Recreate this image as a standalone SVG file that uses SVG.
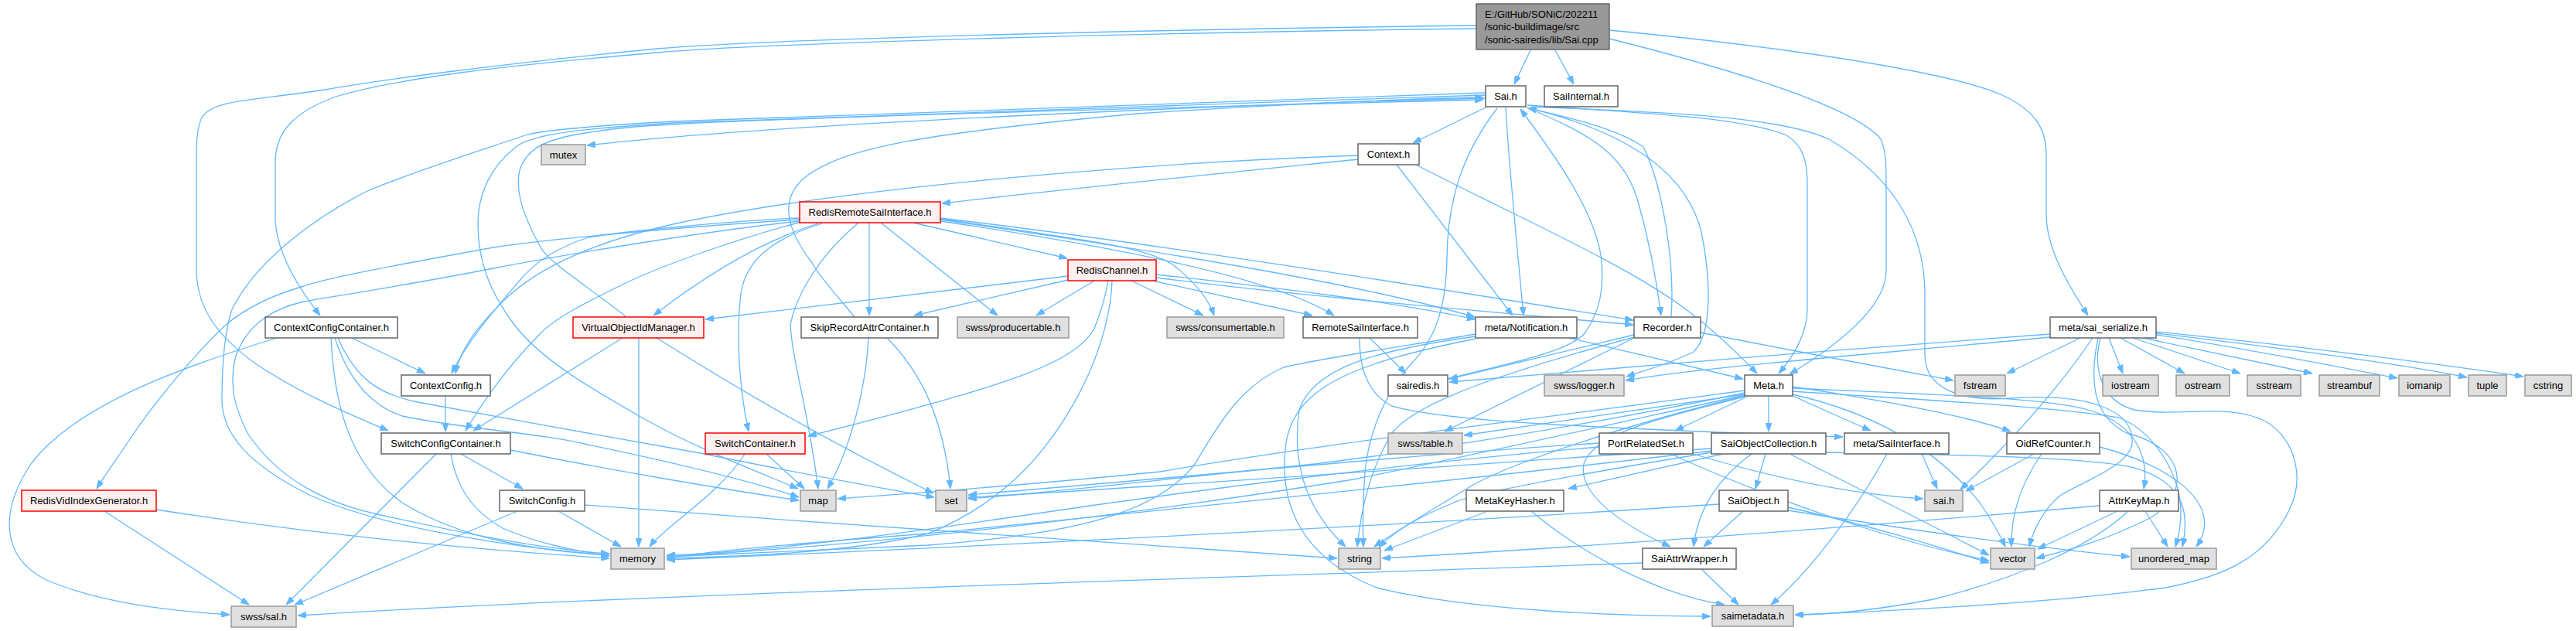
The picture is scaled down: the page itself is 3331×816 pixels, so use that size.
<svg xmlns="http://www.w3.org/2000/svg" width="3331" height="816" viewBox="0 0 3331 816">
<style>
.e{fill:none;stroke:#63B8FF;stroke-width:1.3;marker-end:url(#ah)}
.n rect{stroke-width:1.5}
.w rect{fill:#ffffff;stroke:#666666}
.g rect{fill:#e0e0e0;stroke:#999999}
.r rect{fill:#fff0f0;stroke:#ff0000}
.rt rect{fill:#999999;stroke:#666666}
text{font-family:"Liberation Sans",Arial,sans-serif;font-size:13px;fill:#000;text-anchor:middle}
.rt text{text-anchor:start}
</style>
<defs>
<marker id="ah" markerUnits="userSpaceOnUse" markerWidth="11" markerHeight="8" refX="11" refY="4" orient="auto"><path d="M0,0 L11,4 L0,8 z" fill="#63B8FF" stroke="#63B8FF" stroke-width="1"/></marker>
</defs>
<rect width="3331" height="816" fill="#ffffff"/>
<g id="connectors">
<path class="e" d="M1979,65 L1958,109"/>
<path class="e" d="M2011,65 L2035,109"/>
<path class="e" d="M2081,39 C2300,60 2520,92 2589,123 C2630,142 2646,165 2646,200 L2646,277 C2646,320 2672,365 2700,408"/>
<path class="e" d="M2081,50 C2260,95 2400,140 2432,180 C2439,195 2439,215 2439,240 L2439,350 C2439,400 2370,450 2314,484"/>
<path class="e" d="M1909,37 C1500,42 1000,55 850,68 C650,85 520,100 434,125 C380,145 356,170 356,210 L356,280 C356,320 380,365 414,408"/>
<path class="e" d="M1909,33 C1500,38 1000,50 850,63 C650,82 480,105 420,116 C330,130 280,128 262,150 C256,160 254,180 254,200 L254,353 C256,395 275,430 330,470 C390,510 450,535 502,557"/>
<path class="e" d="M1921,127 C1600,135 1000,160 759,188"/>
<path class="e" d="M1921,139 L1827,185"/>
<path class="e" d="M1947,139 C1950,200 1960,300 1970,408"/>
<path class="e" d="M1974,139 C2060,175 2100,200 2118,260 C2135,320 2143,370 2148,408"/>
<path class="e" d="M2161,410 C2166,340 2150,240 2125,190 C2090,165 2020,150 1976,140"/>
<path class="e" d="M1975,136 C2100,145 2250,150 2310,175 C2335,190 2337,215 2337,240 L2337,400 C2337,430 2320,460 2300,483"/>
<path class="e" d="M1978,140 C2100,170 2180,220 2200,300 C2212,360 2215,430 2190,455 C2160,470 2130,478 2103,487"/>
<path class="e" d="M1921,120 C1500,135 1000,150 870,157 C780,162 700,168 679,175 C620,195 540,220 475,247 C400,285 330,340 300,400 C290,430 287,470 287,517 C287,560 320,600 400,640 C500,685 680,710 788,718"/>
<path class="e" d="M1921,123 C1500,137 1000,152 870,159 C760,166 690,172 667,190 C635,215 618,250 618,290 C618,340 635,380 665,420 C700,465 760,500 830,540 C900,580 980,610 1032,632"/>
<path class="e" d="M1936,140 C1890,200 1872,260 1871,333 C1870,400 1855,440 1825,470 C1790,510 1770,560 1765,610 C1762,650 1762,680 1763,707"/>
<path class="e" d="M1980,138 C2150,145 2300,150 2365,180 C2450,230 2489,300 2489,380 L2489,460 C2490,500 2530,520 2600,515 C2700,508 2760,530 2757,573 C2755,600 2700,620 2665,640 C2640,660 2628,690 2624,707"/>
<path class="e" d="M1872,490 C1950,470 2030,455 2050,430 C2070,400 2075,370 2070,330 C2060,270 2010,200 1966,141"/>
<path class="e" d="M1756,206 C1600,222 1400,242 1218,263"/>
<path class="e" d="M1756,201 C1500,210 1100,240 870,290 C760,315 690,350 650,390 C620,420 595,450 589,483"/>
<path class="e" d="M1806,213 L1956,408"/>
<path class="e" d="M1831,213 C1950,275 2100,340 2180,400 C2220,430 2250,460 2272,483"/>
<path class="e" d="M1216,286 C1450,320 1650,360 1725,408"/>
<path class="e" d="M1216,284 C1500,325 1750,365 1907,410"/>
<path class="e" d="M1216,282 C1500,315 1900,380 2112,414"/>
<path class="e" d="M1181,288 L1380,334"/>
<path class="e" d="M1124,288 L1124,408"/>
<path class="e" d="M1139,288 L1290,408"/>
<path class="e" d="M1216,283 C1400,310 1490,320 1520,345 C1545,365 1562,385 1570,408"/>
<path class="e" d="M1058,289 C990,310 920,350 845,408"/>
<path class="e" d="M1063,289 C1010,305 965,330 958,380 C952,430 955,500 968,558"/>
<path class="e" d="M1110,288 C1060,330 1030,380 1022,420 C1025,470 1045,530 1058,632"/>
<path class="e" d="M1034,282 C950,285 800,300 761,307 C720,320 690,340 670,365 C640,400 605,440 584,483"/>
<path class="e" d="M1034,284 C900,292 700,310 638,320 C500,345 420,360 393,370 C340,385 310,405 292,420 C250,460 200,520 170,565 C150,595 135,615 125,632"/>
<path class="e" d="M1034,286 C900,300 700,335 638,347 C520,370 420,385 393,390 C350,400 320,420 305,460 C295,500 305,530 320,560 C360,620 420,650 488,665 C600,690 700,710 788,716"/>
<path class="e" d="M1036,287 C950,310 850,345 801,370 C760,390 720,410 700,430 C660,470 630,510 602,557"/>
<path class="e" d="M1381,357 L912,413"/>
<path class="e" d="M1381,362 L1182,408"/>
<path class="e" d="M1415,363 L1340,408"/>
<path class="e" d="M1463,363 L1556,408"/>
<path class="e" d="M1490,363 L1697,408"/>
<path class="e" d="M1495,355 C1650,372 1800,390 1908,413"/>
<path class="e" d="M1495,359 C1700,385 1950,405 2112,420"/>
<path class="e" d="M1433,363 C1430,380 1425,400 1415,425 C1390,470 1300,500 1045,564"/>
<path class="e" d="M1438,363 C1437,400 1425,450 1400,500 C1360,580 1300,650 1200,690 C1100,715 950,720 862,722"/>
<path class="e" d="M1105,410 C1085,385 1065,365 1050,340 C1020,300 1005,260 1040,230 C1090,190 1200,172 1470,147 C1650,135 1800,128 1918,126"/>
<path class="e" d="M1123,437 C1120,500 1100,580 1070,632"/>
<path class="e" d="M1147,437 C1190,480 1220,540 1229,632"/>
<path class="e" d="M810,410 C760,370 710,340 699,320 C680,285 665,250 672,220 C680,195 700,183 740,175 C780,167 820,163 870,161 C1000,153 1500,139 1918,129"/>
<path class="e" d="M805,437 L612,557"/>
<path class="e" d="M826,437 L826,707"/>
<path class="e" d="M849,437 C950,500 1050,560 1207,638"/>
<path class="e" d="M455,437 L550,483"/>
<path class="e" d="M358,437 C250,470 100,520 40,600 C0,660 0,720 60,750 C130,780 220,790 297,795"/>
<path class="e" d="M428,437 C432,520 450,600 520,650 C600,700 700,712 788,718"/>
<path class="e" d="M433,437 C450,490 480,525 520,538 C600,555 700,560 760,575 C880,600 980,625 1033,643"/>
<path class="e" d="M437,437 C460,490 490,510 540,520 C650,540 800,568 900,585 C1000,605 1120,628 1208,643"/>
<path class="e" d="M576,512 L576,558"/>
<path class="e" d="M564,587 L370,782"/>
<path class="e" d="M583,587 C590,630 610,660 650,683 C700,705 750,713 788,719"/>
<path class="e" d="M596,587 L676,632"/>
<path class="e" d="M660,582 C800,610 950,635 1033,647"/>
<path class="e" d="M669,661 L381,782"/>
<path class="e" d="M722,661 L803,707"/>
<path class="e" d="M756,653 C1100,680 1500,705 1729,722"/>
<path class="e" d="M202,659 C400,690 600,710 788,722"/>
<path class="e" d="M135,661 L322,782"/>
<path class="e" d="M991,587 L1040,632"/>
<path class="e" d="M963,587 C930,640 860,680 840,707"/>
<path class="e" d="M1771,437 L1818,483"/>
<path class="e" d="M1758,437 C1758,480 1770,510 1800,525 C1870,545 2050,553 2383,565"/>
<path class="e" d="M2029,437 L2254,490"/>
<path class="e" d="M1908,435 C1800,450 1700,470 1680,530 C1670,600 1690,660 1740,707"/>
<path class="e" d="M1908,432 C1800,450 1700,465 1660,475 C1600,500 1570,560 1545,600 C1500,660 1400,690 1200,705 C1050,712 920,718 862,720"/>
<path class="e" d="M1908,438 C1750,470 1670,500 1662,580 C1655,650 1680,720 1780,760 C1900,790 2100,797 2212,797"/>
<path class="e" d="M2113,433 L1874,490"/>
<path class="e" d="M2113,437 L1868,558"/>
<path class="e" d="M2113,436 C1950,480 1830,520 1800,560 C1770,610 1760,660 1755,707"/>
<path class="e" d="M2199,430 C2350,460 2450,478 2526,492"/>
<path class="e" d="M2256,510 L1893,563"/>
<path class="e" d="M2259,513 L2166,557"/>
<path class="e" d="M2287,512 L2287,558"/>
<path class="e" d="M2318,512 L2419,557"/>
<path class="e" d="M2256,513 C2150,540 2060,560 2048,600 C2040,640 2100,680 2160,707"/>
<path class="e" d="M2256,505 C2000,540 1700,575 1500,610 C1300,630 1150,640 1083,645"/>
<path class="e" d="M2256,508 C2100,540 1900,575 1700,600 C1500,620 1350,638 1252,645"/>
<path class="e" d="M2256,511 C2100,545 1900,590 1750,620 C1500,660 1200,700 862,720"/>
<path class="e" d="M2256,512 C2100,550 1950,600 1900,630 C1850,660 1800,690 1777,707"/>
<path class="e" d="M2318,500 C2450,520 2550,540 2600,558"/>
<path class="e" d="M2318,502 C2500,510 2650,515 2700,530 C2770,550 2778,600 2772,632"/>
<path class="e" d="M2318,506 C2450,515 2650,525 2740,540 C2790,560 2820,620 2820,660 C2820,690 2815,700 2813,707"/>
<path class="e" d="M2318,510 C2450,540 2520,600 2560,650 C2580,680 2590,700 2593,707"/>
<path class="e" d="M2283,587 L2270,632"/>
<path class="e" d="M2265,587 C2220,620 2195,660 2190,707"/>
<path class="e" d="M2228,587 L2028,632"/>
<path class="e" d="M2213,585 C2000,620 1900,640 1880,650 C1830,670 1800,690 1783,708"/>
<path class="e" d="M2213,583 C1900,620 1500,660 1200,690 C1000,705 900,715 862,722"/>
<path class="e" d="M2316,588 C2400,630 2480,670 2572,718"/>
<path class="e" d="M2213,580 C1900,600 1500,630 1252,643"/>
<path class="e" d="M2361,585 C2500,588 2700,590 2760,605 C2830,625 2830,670 2822,707"/>
<path class="e" d="M2068,573 C1800,590 1500,620 1252,640"/>
<path class="e" d="M2068,578 C1800,600 1500,640 1300,670 C1100,700 950,715 862,718"/>
<path class="e" d="M2189,587 C2300,620 2400,640 2487,645"/>
<path class="e" d="M2160,587 C2300,650 2450,700 2572,725"/>
<path class="e" d="M2485,587 L2505,632"/>
<path class="e" d="M2440,587 C2400,660 2340,740 2290,782"/>
<path class="e" d="M2630,587 L2542,635"/>
<path class="e" d="M2640,587 C2610,630 2600,670 2601,707"/>
<path class="e" d="M2715,578 C2800,600 2880,650 2840,707"/>
<path class="e" d="M2738,661 L2635,710"/>
<path class="e" d="M2774,661 L2803,707"/>
<path class="e" d="M2715,654 C2300,690 2000,710 1787,722"/>
<path class="e" d="M2752,661 C2700,710 2600,750 2500,775 C2420,790 2360,795 2321,795"/>
<path class="e" d="M2254,661 L2203,707"/>
<path class="e" d="M2223,652 C1800,680 1300,705 862,724"/>
<path class="e" d="M2312,656 C2420,680 2500,705 2572,728"/>
<path class="e" d="M2312,660 C2500,690 2650,710 2754,720"/>
<path class="e" d="M1924,661 L1790,712"/>
<path class="e" d="M1980,661 C2050,720 2150,770 2230,782"/>
<path class="e" d="M2200,736 L2248,782"/>
<path class="e" d="M2124,728 C1500,750 800,770 385,796"/>
<path class="e" d="M2690,437 L2595,483"/>
<path class="e" d="M2727,437 L2745,483"/>
<path class="e" d="M2742,437 L2825,483"/>
<path class="e" d="M2758,437 L2897,483"/>
<path class="e" d="M2771,437 L2990,483"/>
<path class="e" d="M2788,433 C2900,450 3000,470 3100,489"/>
<path class="e" d="M2788,431 C2950,450 3100,470 3190,488"/>
<path class="e" d="M2788,429 C2950,445 3150,470 3263,487"/>
<path class="e" d="M2706,437 C2650,520 2580,590 2535,633"/>
<path class="e" d="M2651,432 C2400,450 2100,475 1874,494"/>
<path class="e" d="M2651,436 C2400,460 2200,475 2102,492"/>
<path class="e" d="M2713,437 C2700,500 2710,540 2750,560 C2830,580 2832,640 2780,670 C2720,700 2680,710 2633,722"/>
<path class="e" d="M2716,437 C2705,480 2720,520 2760,530 C2820,540 2880,520 2930,545 C2970,570 2980,620 2960,660 C2930,720 2880,745 2800,760 C2650,780 2450,790 2321,795"/>
</g>
<g id="node-root" class="n rt"><rect x="1909" y="5" width="172" height="59"/><text x="1920" y="23">E:/GitHub/SONiC/202211</text><text x="1920" y="39">/sonic-buildimage/src</text><text x="1920" y="56">/sonic-sairedis/lib/Sai.cpp</text></g>
<g id="node-sai-h" class="n w"><rect x="1921" y="111" width="52" height="27"/><text x="1947" y="129">Sai.h</text></g>
<g id="node-saiinternal" class="n w"><rect x="1997" y="111" width="95" height="27"/><text x="2044.5" y="129">SaiInternal.h</text></g>
<g id="node-mutex" class="n g"><rect x="700" y="187" width="57" height="26"/><text x="728.5" y="205">mutex</text></g>
<g id="node-context" class="n w"><rect x="1756" y="186" width="79" height="27"/><text x="1795.5" y="204">Context.h</text></g>
<g id="node-rrsi" class="n r"><rect x="1034" y="261" width="182" height="27"/><text x="1125" y="279">RedisRemoteSaiInterface.h</text></g>
<g id="node-redischannel" class="n r"><rect x="1381" y="336" width="114" height="27"/><text x="1438" y="354">RedisChannel.h</text></g>
<g id="node-ccc" class="n w"><rect x="343" y="410" width="171" height="27"/><text x="428.5" y="428">ContextConfigContainer.h</text></g>
<g id="node-voim" class="n r"><rect x="741" y="410" width="169" height="27"/><text x="825.5" y="428">VirtualObjectIdManager.h</text></g>
<g id="node-skiprecord" class="n w"><rect x="1036" y="410" width="177" height="27"/><text x="1124.5" y="428">SkipRecordAttrContainer.h</text></g>
<g id="node-producertable" class="n g"><rect x="1238" y="410" width="144" height="27"/><text x="1310" y="428">swss/producertable.h</text></g>
<g id="node-consumertable" class="n g"><rect x="1509" y="410" width="151" height="27"/><text x="1584.5" y="428">swss/consumertable.h</text></g>
<g id="node-remotesai" class="n w"><rect x="1685" y="410" width="148" height="27"/><text x="1759" y="428">RemoteSaiInterface.h</text></g>
<g id="node-notification" class="n w"><rect x="1908" y="410" width="131" height="27"/><text x="1973.5" y="428">meta/Notification.h</text></g>
<g id="node-recorder" class="n w"><rect x="2113" y="410" width="86" height="27"/><text x="2156" y="428">Recorder.h</text></g>
<g id="node-sai-serialize" class="n w"><rect x="2651" y="410" width="137" height="27"/><text x="2719.5" y="428">meta/sai_serialize.h</text></g>
<g id="node-contextconfig" class="n w"><rect x="519" y="485" width="115" height="27"/><text x="576.5" y="503">ContextConfig.h</text></g>
<g id="node-sairedis" class="n w"><rect x="1795" y="485" width="77" height="27"/><text x="1833.5" y="503">sairedis.h</text></g>
<g id="node-logger" class="n g"><rect x="1997" y="485" width="103" height="27"/><text x="2048.5" y="503">swss/logger.h</text></g>
<g id="node-meta" class="n w"><rect x="2256" y="485" width="62" height="27"/><text x="2287" y="503">Meta.h</text></g>
<g id="node-fstream" class="n g"><rect x="2528" y="485" width="65" height="27"/><text x="2560.5" y="503">fstream</text></g>
<g id="node-iostream" class="n g"><rect x="2719" y="485" width="72" height="27"/><text x="2755" y="503">iostream</text></g>
<g id="node-ostream" class="n g"><rect x="2814" y="485" width="69" height="27"/><text x="2848.5" y="503">ostream</text></g>
<g id="node-sstream" class="n g"><rect x="2906" y="485" width="69" height="27"/><text x="2940.5" y="503">sstream</text></g>
<g id="node-streambuf" class="n g"><rect x="2999" y="485" width="78" height="27"/><text x="3038" y="503">streambuf</text></g>
<g id="node-iomanip" class="n g"><rect x="3102" y="485" width="66" height="27"/><text x="3135" y="503">iomanip</text></g>
<g id="node-tuple" class="n g"><rect x="3192" y="485" width="49" height="27"/><text x="3216.5" y="503">tuple</text></g>
<g id="node-cstring" class="n g"><rect x="3265" y="485" width="60" height="27"/><text x="3295" y="503">cstring</text></g>
<g id="node-scc" class="n w"><rect x="493" y="560" width="167" height="27"/><text x="576.5" y="578">SwitchConfigContainer.h</text></g>
<g id="node-switchcontainer" class="n r"><rect x="912" y="560" width="129" height="27"/><text x="976.5" y="578">SwitchContainer.h</text></g>
<g id="node-table" class="n g"><rect x="1795" y="560" width="96" height="27"/><text x="1843" y="578">swss/table.h</text></g>
<g id="node-portrelated" class="n w"><rect x="2068" y="560" width="121" height="27"/><text x="2128.5" y="578">PortRelatedSet.h</text></g>
<g id="node-saiobjcoll" class="n w"><rect x="2213" y="560" width="148" height="27"/><text x="2287" y="578">SaiObjectCollection.h</text></g>
<g id="node-saiinterface" class="n w"><rect x="2385" y="560" width="135" height="27"/><text x="2452.5" y="578">meta/SaiInterface.h</text></g>
<g id="node-oidref" class="n w"><rect x="2595" y="560" width="120" height="27"/><text x="2655" y="578">OidRefCounter.h</text></g>
<g id="node-rvig" class="n r"><rect x="28" y="634" width="174" height="27"/><text x="115" y="652">RedisVidIndexGenerator.h</text></g>
<g id="node-switchconfig" class="n w"><rect x="646" y="634" width="110" height="27"/><text x="701" y="652">SwitchConfig.h</text></g>
<g id="node-map" class="n g"><rect x="1035" y="634" width="46" height="27"/><text x="1058" y="652">map</text></g>
<g id="node-set" class="n g"><rect x="1210" y="634" width="40" height="27"/><text x="1230" y="652">set</text></g>
<g id="node-metakeyhasher" class="n w"><rect x="1896" y="634" width="126" height="27"/><text x="1959" y="652">MetaKeyHasher.h</text></g>
<g id="node-saiobject" class="n w"><rect x="2223" y="634" width="89" height="27"/><text x="2267.5" y="652">SaiObject.h</text></g>
<g id="node-sai-lc" class="n g"><rect x="2489" y="634" width="49" height="27"/><text x="2513.5" y="652">sai.h</text></g>
<g id="node-attrkeymap" class="n w"><rect x="2715" y="634" width="102" height="27"/><text x="2766" y="652">AttrKeyMap.h</text></g>
<g id="node-memory" class="n g"><rect x="790" y="709" width="69" height="27"/><text x="824.5" y="727">memory</text></g>
<g id="node-string" class="n g"><rect x="1731" y="709" width="54" height="27"/><text x="1758" y="727">string</text></g>
<g id="node-saiattrwrapper" class="n w"><rect x="2124" y="709" width="121" height="27"/><text x="2184.5" y="727">SaiAttrWrapper.h</text></g>
<g id="node-vector" class="n g"><rect x="2574" y="709" width="57" height="27"/><text x="2602.5" y="727">vector</text></g>
<g id="node-unordered-map" class="n g"><rect x="2756" y="709" width="110" height="27"/><text x="2811" y="727">unordered_map</text></g>
<g id="node-sal" class="n g"><rect x="299" y="784" width="84" height="27"/><text x="341" y="802">swss/sal.h</text></g>
<g id="node-saimetadata" class="n g"><rect x="2214" y="783" width="105" height="27"/><text x="2266.5" y="801">saimetadata.h</text></g>
</svg>
